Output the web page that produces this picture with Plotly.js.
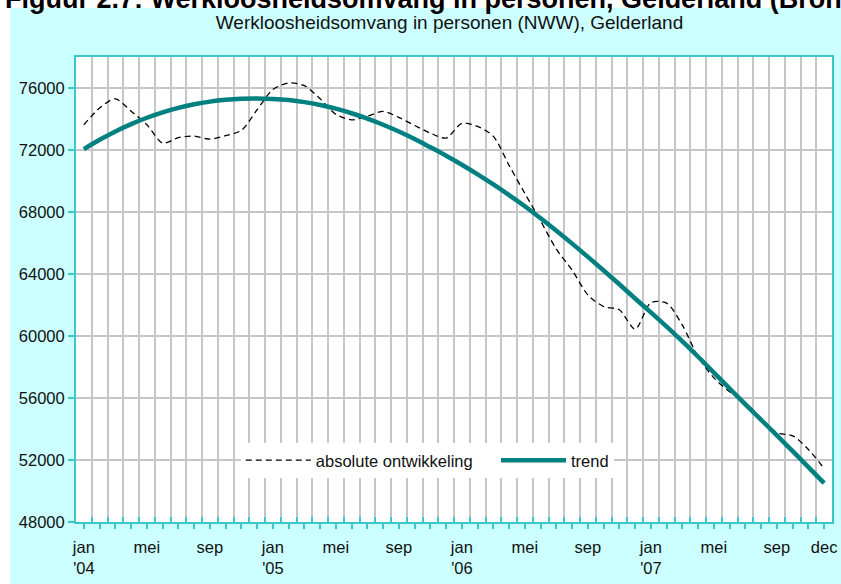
<!DOCTYPE html>
<html><head><meta charset="utf-8">
<script src="https://cdn.plot.ly/plotly-3.0.1.min.js"></script>
<style>html,body{margin:0;padding:0;background:#fff}#chart{width:841px;height:584px}</style>
</head><body><div id="chart"></div>
<script>
const months = [
 "jan '04","feb '04","mrt '04","apr '04","mei '04","jun '04","jul '04","aug '04","sep '04","okt '04","nov '04","dec '04",
 "jan '05","feb '05","mrt '05","apr '05","mei '05","jun '05","jul '05","aug '05","sep '05","okt '05","nov '05","dec '05",
 "jan '06","feb '06","mrt '06","apr '06","mei '06","jun '06","jul '06","aug '06","sep '06","okt '06","nov '06","dec '06",
 "jan '07","feb '07","mrt '07","apr '07","mei '07","jun '07","jul '07","aug '07","sep '07","okt '07","nov '07","dec '07"];
const tickLabels = [
 "jan<br>'04","","","","mei","","","","sep","","","",
 "jan<br>'05","","","","mei","","","","sep","","","",
 "jan<br>'06","","","","mei","","","","sep","","","",
 "jan<br>'07","","","","mei","","","","sep","","","dec"];
const absolute = [
 73630,74710,75300,74500,73630,72450,72800,72900,72700,72920,73270,74600,
 75900,76320,76150,75300,74300,73950,74180,74490,74100,73580,73090,72770,
 73720,73520,72880,71000,69200,67420,65600,64250,62650,61900,61690,60440,
 62150,62120,60700,58650,57300,56400,55700,54700,53750,53560,52680,51450];
const trend = [
 72060,72660,73200,73670,74080,74430,74720,74950,75120,75235,75300,75320,
 75295,75220,75090,74905,74665,74370,74025,73630,73190,72705,72175,71630,
 71050,70430,69775,69090,68375,67595,66790,65960,65105,64230,63335,62420,
 61520,60600,59650,58660,57640,56610,55590,54590,53590,52570,51540,50505];
const yTicks = [48000,52000,56000,60000,64000,68000,72000,76000];
const seriesNames = ["absolute ontwikkeling","trend"];
const subtitle = "Werkloosheidsomvang in personen (NWW), Gelderland";
const figTitle = "Figuur 2.7: Werkloosheidsomvang in personen, Gelderland (Bron: UWV WERKbedrijf)";

const xIdx = months.map((m,i)=>i);
const bounds = months.slice(1).map((m,i)=>i+0.5);
const frame = '#3cc8c8';
const grid = '#c6c6c6';
const pad = '\u00a0\u00a0\u00a0\u00a0';

const traces = [
 {x:xIdx, y:absolute, name:seriesNames[0]+pad, type:'scatter', mode:'lines',
  line:{color:'#000', width:1.3, dash:'6px,4px', shape:'spline', smoothing:0.8}, text:months, hoverinfo:'text+y'},
 {x:xIdx, y:trend, name:seriesNames[1], type:'scatter', mode:'lines',
  line:{color:'#008080', width:4.5, shape:'spline'}, text:months, hoverinfo:'text+y'}
];

const layout = {
 width:841, height:584,
 margin:{l:76,r:9,t:57,b:62},
 paper_bgcolor:'#ccffff', plot_bgcolor:'#ffffff',
 font:{family:'"Liberation Sans", Arial, sans-serif', color:'#111', size:16.5},
 title:{text:subtitle, font:{size:19,color:'#111'}, x:0.5345, xanchor:'center', xref:'container', y:0.962, yanchor:'middle', yref:'container'},
 showlegend:true,
 legend:{orientation:'h', x:0.218, xanchor:'left', y:0.17, yanchor:'top', bgcolor:'#ffffff', font:{size:16.5},
   itemwidth:65, borderwidth:0},
 xaxis:{range:[-0.5,47.5], tickmode:'array', tickvals:xIdx, ticktext:tickLabels, tickangle:0,
   ticks:'outside', ticklen:5, tickwidth:2, tickcolor:frame, showgrid:false, zeroline:false, ticklabelstandoff:4,
   showline:true, mirror:true, linecolor:frame, linewidth:2, fixedrange:true,
   minor:{tickmode:'array', tickvals:bounds, ticks:'inside', ticklen:5, tickwidth:2, tickcolor:frame,
     showgrid:true, gridcolor:grid, gridwidth:2}},
 yaxis:{range:[48000,78000], tickmode:'array', tickvals:yTicks, tickformat:'d',
   ticks:'outside', ticklen:6, tickwidth:2, tickcolor:frame, showgrid:true, gridcolor:grid, gridwidth:2,
   zeroline:false, showline:true, mirror:true, linecolor:frame, linewidth:2, fixedrange:true},
 shapes:[
  {type:'rect', xref:'paper', yref:'paper', x0:-0.2, x1:1.2, y0:(522-8)/465, y1:1.3, fillcolor:'#ffffff', line:{width:0}, layer:'below'},
  {type:'rect', xref:'paper', yref:'paper', x0:-0.2, x1:(10-76)/756, y0:-0.3, y1:1.3, fillcolor:'#ffffff', line:{width:0}, layer:'below'}
 ],
 annotations:[
  {text:'<b>'+figTitle+'</b>', xref:'paper', yref:'paper', x:(3-76)/756, xanchor:'left', y:(522+1.5)/465, yanchor:'middle',
   showarrow:false, font:{size:27, color:'#000'}}
 ]
};
Plotly.newPlot('chart', traces, layout, {displayModeBar:false, staticPlot:true});
</script>
</body></html>
